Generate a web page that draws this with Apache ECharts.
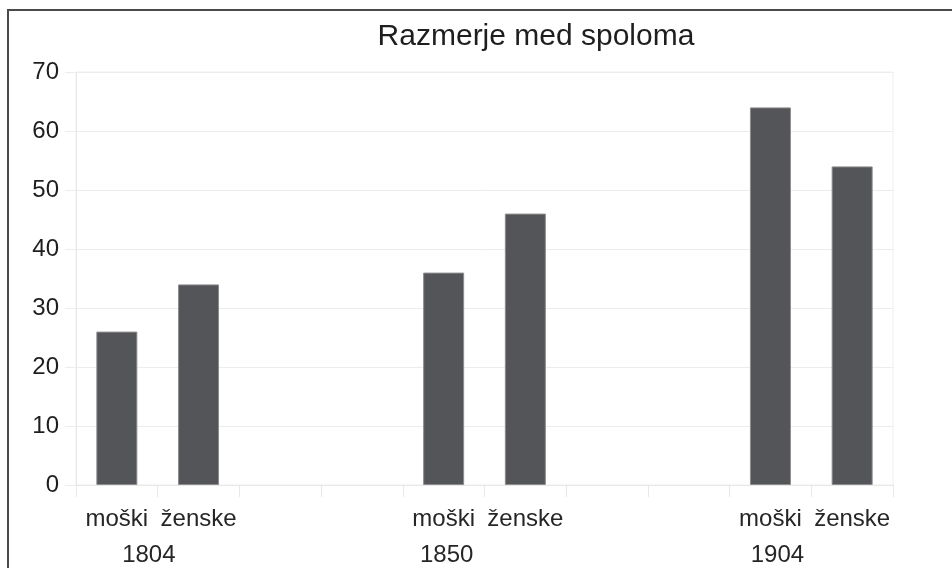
<!DOCTYPE html>
<html>
<head>
<meta charset="utf-8">
<script src="https://cdn.jsdelivr.net/npm/echarts@6/dist/echarts.min.js"></script>
<style>
html,body{margin:0;padding:0;background:#fff;}
#wrap{position:relative;width:952px;height:568px;overflow:hidden;}
#chart{position:absolute;left:0;top:0;width:952px;height:568px;}
#frame{position:absolute;left:7px;top:9px;width:1000px;height:700px;border-left:2px solid #4a4a4a;border-top:2px solid #4a4a4a;pointer-events:none;}
</style>
</head>
<body>
<div id="wrap"><div id="chart"></div><div id="frame"></div></div>
<script>
const titleText = 'Razmerje med spoloma';
const categories = ['moški','ženske','','','moški','ženske','','','moški','ženske'];
const values = [26, 34, '-', '-', 36, 46, '-', '-', 64, 54];
const yearLabels = ['1804','','','','1850','','','','1904',''];
const yearShift = [64, 0, 0, 0, 6, 0, 0, 0, 14, 0];
const yTicks = {min: 0, max: 70, interval: 10};

const font = "'Liberation Sans', Arial, sans-serif";
const chart = echarts.init(document.getElementById('chart'));
chart.setOption({
  animation: false,
  backgroundColor: '#fff',
  title: {
    text: titleText,
    left: 531,
    textAlign: 'center',
    top: 17,
    textStyle: {fontFamily: font, fontSize: 30, fontWeight: 'normal', color: '#1e1e1e'}
  },
  grid: {left: 76, right: 59, top: 72, bottom: 83, show: true, borderColor: '#efefef', borderWidth: 1},
  xAxis: [
    {
      type: 'category',
      data: categories,
      position: 'bottom',
      axisLine: {lineStyle: {color: '#e8e8e8'}},
      axisTick: {show: true, length: 12, lineStyle: {color: '#e8e8e8'}},
      axisLabel: {interval: 0, margin: 22, fontFamily: font, fontSize: 24, color: '#262626'}
    },
    {
      type: 'category',
      data: yearLabels.map((v, i) => ({value: v, textStyle: {padding: [0, 0, 0, yearShift[i]]}})),
      position: 'bottom',
      gridIndex: 0,
      axisLine: {show: false},
      axisTick: {show: false},
      axisLabel: {interval: 0, margin: 58, fontFamily: font, fontSize: 24, color: '#262626'}
    }
  ],
  yAxis: {
    type: 'value',
    min: yTicks.min, max: yTicks.max, interval: yTicks.interval,
    axisLine: {show: true, lineStyle: {color: '#e8e8e8'}},
    axisTick: {show: true, length: 11, lineStyle: {color: '#ececec'}},
    splitLine: {lineStyle: {color: '#ececec'}},
    axisLabel: {margin: 17, fontFamily: font, fontSize: 24, color: '#1e1e1e'}
  },
  series: [{
    type: 'bar',
    xAxisIndex: 0,
    data: values,
    barWidth: 41,
    itemStyle: {color: '#545558', borderColor: '#8c8c8c', borderWidth: 1}
  }]
});
</script>
</body>
</html>
